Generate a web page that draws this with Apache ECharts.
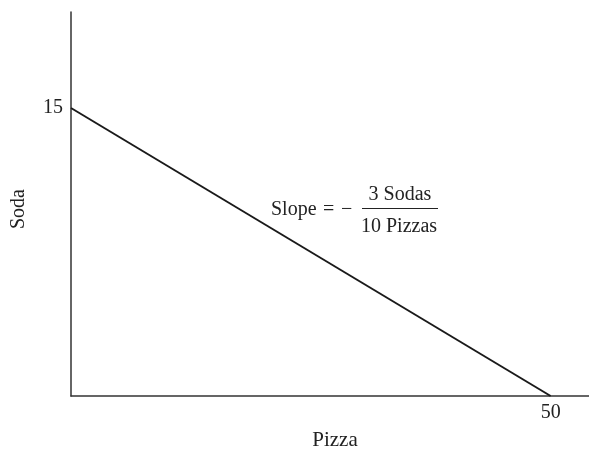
<!DOCTYPE html>
<html><head><meta charset="utf-8">
<script src="https://cdn.jsdelivr.net/npm/echarts@6/dist/echarts.min.js"></script>
<style>html,body{margin:0;padding:0;background:#fff}#c{width:589px;height:453px}</style>
</head><body><div id="c"></div>
<script>
const pizza = [0, 50];
const soda = [15, 0];
const yLabels = [15];
const xLabels = [50];
const xTitle = 'Pizza';
const yTitle = 'Soda';
const FONT = '"Liberation Serif", "DejaVu Serif", serif';
const COL = '#222';
const chart = echarts.init(document.getElementById('c'));
chart.setOption({
  animation: false,
  grid: {left: 71, right: 0, top: 12, bottom: 57, outerBoundsMode: 'none', containLabel: false},
  xAxis: {
    type: 'value', min: 0, max: 54, interval: 50,
    axisLine: {lineStyle: {color: '#333', width: 1.5}},
    axisTick: {show: false}, splitLine: {show: false},
    axisLabel: {fontFamily: FONT, fontSize: 20, color: COL, margin: 7,
      formatter: v => xLabels.includes(v) ? String(v) : ''}
  },
  yAxis: {
    type: 'value', min: 0, max: 20, interval: 5,
    axisLine: {show: true, lineStyle: {color: '#333', width: 1.5}},
    axisTick: {show: false}, splitLine: {show: false},
    axisLabel: {fontFamily: FONT, fontSize: 20, color: COL, margin: 8,
      formatter: v => yLabels.includes(v) ? String(v) : ''}
  },
  series: [{
    type: 'line', data: pizza.map((p, i) => [p, soda[i]]),
    symbol: 'none', lineStyle: {color: '#1a1a1a', width: 2}
  }],
  graphic: [
    {type: 'text', style: {x: 335, y: 440, text: xTitle, font: '21px ' + FONT, fill: COL, align: 'center', verticalAlign: 'middle'}},
    {type: 'text', x: 19, y: 209, rotation: Math.PI / 2, style: {x: 0, y: 0, text: yTitle, font: '20px ' + FONT, fill: COL, align: 'center', verticalAlign: 'middle'}},
    {type: 'text', style: {x: 271, y: 200, text: 'Slope', font: '20px ' + FONT, fill: COL}},
    {type: 'text', style: {x: 323, y: 200, text: '=', font: '20px ' + FONT, fill: COL}},
    {type: 'text', style: {x: 341, y: 200, text: '\u2212', font: '20px ' + FONT, fill: COL}},
    {type: 'text', style: {x: 400, y: 185, text: '3 Sodas', font: '20px ' + FONT, fill: COL, align: 'center'}},
    {type: 'line', shape: {x1: 362, y1: 208.5, x2: 438, y2: 208.5}, style: {stroke: COL, lineWidth: 1.2}},
    {type: 'text', style: {x: 399, y: 217, text: '10 Pizzas', font: '20px ' + FONT, fill: COL, align: 'center'}}
  ]
});
</script></body></html>
